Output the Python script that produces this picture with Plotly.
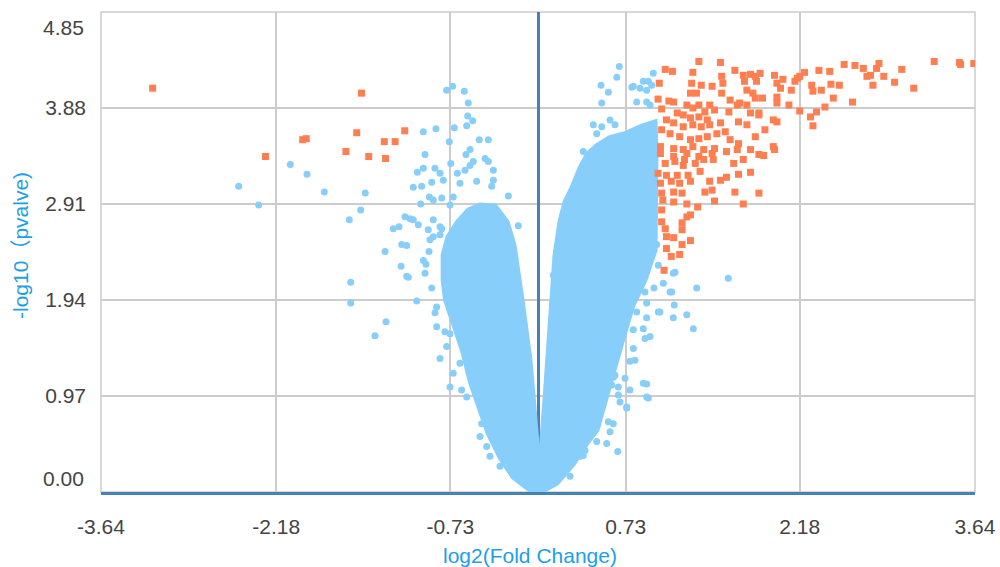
import plotly.graph_objects as go

# ---------------- data ----------------
X_TICKS = [-3.64, -2.18, -0.73, 0.73, 2.18, 3.64]
Y_TICKS = [0.00, 0.97, 1.94, 2.91, 3.88, 4.85]

# significant genes (orange squares)
sig_x = [1.34, 1.52, 1.06, 1.12, 1.29, 1.64, 2.55, 2.64, 2.71, 2.84,
         2.82, 3.03, 3.30, 3.51, 3.52, 3.63, 2.34, 2.43, 2.22, 2.74,
         2.77, 2.88, 2.79, 2.97, 3.13, 2.62, 2.51, 2.44, 2.46, 2.39,
         2.32, 2.27, 2.29, 2.18, 2.16, 2.18, 2.14, 1.97, 2.04, 1.99,
         2.02, 2.11, 2.09, 1.99, 1.99, 2.28, 2.29, 2.36, 1.71, 1.77,
         1.81, 1.85, 1.82, 1.72, 1.74, 1.79, 1.81, 1.87, 1.68, 1.74,
         1.77, 1.84, 1.53, 1.54, 1.53, 1.60, 1.36, 1.28, 1.27, 1.32,
         1.45, 1.01, 1.00, 1.09, 1.13, 1.03, 1.24, 1.29, 1.34, 1.43,
         1.39, 1.47, 1.59, 1.66, 1.16, 1.21, 1.27, 1.34, 1.41, 1.07,
         1.13, 1.21, 1.29, 1.36, 1.43, 1.52, 1.67, 1.74, 1.84, 1.89,
         1.96, 1.99, 1.03, 1.10, 1.18, 1.27, 1.34, 1.41, 1.49, 1.56,
         1.60, 1.67, 1.81, 1.77, 1.02, 1.13, 1.21, 1.29, 1.38, 1.47,
         1.57, 1.66, 1.96, 1.97, 1.84, 1.88, 1.13, 1.22, 1.34, 1.46,
         1.71, 1.63, 1.02, 1.24, 1.45, 1.06, 1.14, 1.21, 1.31, 1.38,
         1.67, 1.77, 1.00, 1.07, 1.16, 1.25, 1.35, 1.02, 1.11, 1.18,
         1.27, 1.43, 1.52, 1.57, 1.03, 1.13, 1.20, 1.39, 1.45, 1.64,
         1.84, 1.04, 1.13, 1.24, 1.33, 1.47, 1.71, 1.03, 1.24, 1.27,
         1.20, 1.03, 1.06, 1.20, 1.13, 1.07, 1.27, 1.20, 1.07, 1.11, 1.18, 1.05,
         -3.21, -1.47, -2.27, -1.96, -1.93, -1.51, -1.60, -1.41, -1.28, -1.19, -1.11, -1.27]
sig_y = [4.35, 4.34, 4.27, 4.25, 4.24, 4.26, 4.32, 4.31, 4.28, 4.33,
         4.28, 4.27, 4.35, 4.34, 4.32, 4.33, 4.26, 4.25, 4.24, 4.20,
         4.21, 4.20, 4.11, 4.14, 4.08, 3.94, 4.11, 4.12, 3.98, 3.89,
         3.84, 3.79, 3.70, 3.85, 4.18, 4.20, 4.15, 4.21, 4.17, 4.13,
         4.08, 4.06, 3.91, 3.93, 3.99, 4.11, 4.05, 4.06, 4.21, 4.22,
         4.20, 4.23, 4.15, 4.15, 4.06, 4.03, 3.98, 3.98, 3.93, 3.91,
         3.83, 3.83, 4.20, 4.13, 4.03, 3.96, 4.11, 4.13, 4.03, 4.03,
         4.10, 4.13, 3.97, 3.95, 3.94, 3.87, 3.91, 3.88, 3.91, 3.91,
         3.84, 3.86, 3.84, 3.91, 3.83, 3.81, 3.78, 3.79, 3.76, 3.76,
         3.73, 3.69, 3.71, 3.69, 3.71, 3.73, 3.74, 3.71, 3.81, 3.66,
         3.76, 3.74, 3.66, 3.62, 3.59, 3.56, 3.57, 3.59, 3.62, 3.64,
         3.56, 3.52, 3.59, 3.46, 3.49, 3.47, 3.46, 3.49, 3.46, 3.47,
         3.44, 3.46, 3.49, 3.46, 3.41, 3.40, 3.39, 3.36, 3.39, 3.36,
         3.36, 3.32, 3.42, 3.42, 3.42, 3.32, 3.34, 3.30, 3.32, 3.36,
         3.21, 3.23, 3.22, 3.20, 3.20, 3.20, 3.24, 3.12, 3.14, 3.12,
         3.14, 3.14, 3.15, 3.18, 3.02, 3.03, 3.02, 3.03, 3.05, 3.03,
         3.02, 2.95, 2.93, 2.91, 2.88, 2.94, 2.91, 2.85, 2.78, 2.80,
         2.72, 2.73, 2.66, 2.65, 2.57, 2.58, 2.54, 2.50, 2.46, 2.38, 2.40, 2.24,
         4.08, 4.03, 3.39, 3.56, 3.57, 3.63, 3.44, 3.39, 3.54, 3.54, 3.65, 3.37]

# non-significant genes lying outside the dense cloud (blue dots)
blue_x = [0.677, 0.656, 0.525, 0.586, 0.531, 0.781, 0.850, 0.877, 0.919, 0.960,
          0.947, 0.905, 0.822, 0.905, 0.933, 0.794, 0.461, 0.531, 0.600, 0.641,
          0.489, 0.377, 0.294, 0.225, 0.211, 0.156, 0.128,
          -0.761, -0.711, -0.614, -0.581, -0.586, -0.544, -0.594, -0.697, -0.850, -0.955,
          -0.739, -0.489, -0.414, -0.566, -0.600, -0.941, -0.727, -0.441, -0.414, -1.005,
          -0.955, -0.858, -0.816, -0.789, -1.039, -0.969, -0.885, -0.672, -0.608, -0.566,
          -0.539, -0.511, -0.650, -0.372, -0.372, -0.386, -0.247, -0.905, -0.872, -0.802,
          -0.706, -0.733, -0.977, -1.108, -1.039, -0.997, -0.872, -0.816, -0.914, -0.164,
          -2.493, -2.327, -2.063, -1.924, -1.780, -1.439, -1.477, -1.572, -1.066, -1.205,
          -1.158, -1.274, -1.135, -1.094, -0.908, -1.141, -1.080, -0.955, -0.933, -1.560,
          -1.560, -1.010, -1.266, -1.358, -0.885, -0.844, -0.844, -0.816, -0.733, -0.761,
          -0.775, -0.858, -0.941, -0.900, -0.872, -0.802, -0.816, -0.483, -0.427, -0.650,
          -0.566, -0.706, -1.094, -0.733, -0.636, -0.594, -0.469, -0.400, -0.317,
          0.989, 1.002, 1.141, 1.044, 1.114, 0.966, 1.322, 1.135, 1.016, 1.239,
          1.127, 1.294, 0.905, 0.877, 0.933, 0.891, 0.794, 0.808, 0.766, 0.877,
          0.905, 0.919, 0.766, 0.739, 0.683, 0.669, 0.725, 0.641, 0.614, 0.586,
          0.600, 0.489, 0.572, 0.664, 0.392, 0.267, 0.350, 0.377, 0.794, 0.850,
          0.905, 0.822, 1.585, 1.100, 0.627, 0.627, 0.739, 0.794, 0.627, 0.669,
          0.905, 0.739, 0.627, 0.392, 0.891, 1.002, 1.127]
blue_y = [4.30, 4.19, 4.11, 4.04, 3.93, 4.09, 4.08, 4.15, 4.15, 4.23,
          4.11, 4.06, 3.94, 3.94, 3.91, 4.10, 3.71, 3.69, 3.76, 3.71,
          3.62, 3.44, 3.03, 2.83, 2.73, 2.43, 2.19,
          4.06, 4.10, 4.05, 3.93, 3.80, 3.75, 3.70, 3.68, 3.67, 3.64,
          3.54, 3.56, 3.56, 3.46, 3.41, 3.41, 3.32, 3.37, 3.34, 3.23,
          3.27, 3.27, 3.22, 3.15, 3.08, 3.09, 3.13, 3.22, 3.25, 3.30,
          3.34, 3.14, 3.12, 3.25, 3.15, 3.09, 2.99, 2.98, 2.95, 2.97,
          2.98, 2.90, 2.91, 2.78, 2.75, 2.70, 2.75, 2.68, 2.65, 2.69,
          3.09, 2.90, 3.31, 3.21, 3.03, 3.02, 2.85, 2.75, 2.76, 2.66,
          2.68, 2.43, 2.50, 2.49, 2.43, 2.28, 2.17, 2.34, 2.30, 2.12,
          1.91, 1.93, 1.72, 1.58, 2.06, 1.87, 1.67, 1.35, 1.06, 1.47,
          1.62, 1.81, 2.21, 2.55, 2.58, 2.66, 2.60, 0.56, 0.46, 1.30,
          1.18, 1.20, 2.18, 1.60, 1.03, 0.96, 0.69, 0.36, 0.26,
          2.50, 2.29, 2.22, 2.11, 2.02, 2.06, 2.06, 1.89, 1.82, 1.79,
          1.76, 1.65, 1.76, 1.65, 1.57, 1.55, 1.45, 1.33, 1.32, 1.10,
          1.09, 0.95, 1.03, 0.85, 0.91, 0.98, 1.15, 1.18, 1.08, 0.71,
          0.61, 0.51, 0.49, 0.41, 0.51, 0.16, 0.36, 0.37, 2.06, 2.09,
          1.91, 1.82, 2.16, 2.02, 2.24, 2.07, 1.82, 1.64, 1.16, 1.06,
          0.96, 0.86, 0.69, 0.42, 2.02, 1.82, 2.21]

# outlines of the two dense (overplotted) lobes of the cloud
core_left_x = [-0.008, -0.067, -0.208, -0.317, -0.416, -0.480, -0.560, -0.630, -0.720,
               -0.770, -0.790, -0.790, -0.750, -0.670, -0.580, -0.483, -0.358, -0.258,
               -0.200, -0.167, -0.133, -0.100, -0.067, -0.042, -0.025, -0.008, 0.0]
core_left_y = [0.0, 0.020, 0.152, 0.354, 0.596, 0.828, 1.101, 1.435, 1.738,
               1.940, 2.142, 2.395, 2.577, 2.728, 2.849, 2.900, 2.890, 2.728,
               2.496, 2.243, 1.940, 1.637, 1.334, 0.980, 0.727, 0.475, 0.0]
core_right_x = [0.0, 0.017, 0.033, 0.058, 0.083, 0.108, 0.125, 0.142, 0.183, 0.225,
                0.283, 0.350, 0.416, 0.491, 0.600, 0.725, 0.850, 0.975, 0.983, 0.983,
                0.975, 0.891, 0.791, 0.716, 0.633, 0.566, 0.491, 0.408, 0.300, 0.158, 0.025]
core_right_y = [0.0, 0.222, 0.525, 0.930, 1.334, 1.738, 2.061, 2.395, 2.728, 2.930,
                3.072, 3.274, 3.420, 3.500, 3.580, 3.620, 3.690, 3.740, 3.456, 3.072,
                2.445, 2.142, 1.889, 1.586, 1.233, 0.930, 0.626, 0.495, 0.293, 0.091, 0.0]

# ---------------- styling ----------------
BLUE = "#87CEFA"
ORANGE = "#FF7F50"
AXIS_BLUE = "#4682B4"
TITLE_BLUE = "#1E9FE6"
GRID = "#cccccc"
TICK_COLOR = "#444444"
FONT = "Liberation Sans, Arial, Noto Sans CJK SC, sans-serif"

fig = go.Figure()
for cx, cy in [(core_left_x, core_left_y), (core_right_x, core_right_y)]:
    fig.add_trace(go.Scatter(x=cx, y=cy, mode="lines", fill="toself",
                             fillcolor=BLUE, line=dict(color=BLUE, width=5),
                             hoverinfo="skip", showlegend=False))
fig.add_trace(go.Scatter(x=blue_x, y=blue_y, mode="markers",
                         marker=dict(color=BLUE, size=7, symbol="circle", line=dict(width=0)),
                         showlegend=False))
fig.add_trace(go.Scatter(x=sig_x, y=sig_y, mode="markers",
                         marker=dict(color=ORANGE, size=7, symbol="square", line=dict(width=0)),
                         showlegend=False))

tick_font = dict(family=FONT, size=21, color=TICK_COLOR)
title_font = dict(family=FONT, size=21, color=TITLE_BLUE)

fig.update_xaxes(range=[X_TICKS[0], X_TICKS[-1]], tickvals=X_TICKS,
                 ticktext=[f"{v:.2f}" for v in X_TICKS],
                 showgrid=True, gridcolor=GRID, gridwidth=1.5,
                 zeroline=True, zerolinecolor=AXIS_BLUE, zerolinewidth=3,
                 showline=True, linecolor=AXIS_BLUE, linewidth=3,
                 ticks="", ticklabelstandoff=14, tickfont=tick_font,
                 automargin=False, fixedrange=True)

mid_y = Y_TICKS[1:-1]
fig.update_yaxes(range=[Y_TICKS[0], Y_TICKS[-1]], tickvals=mid_y,
                 ticktext=[f"{v:.2f}" for v in mid_y],
                 showgrid=True, gridcolor=GRID, gridwidth=1.5,
                 zeroline=False, showline=False,
                 ticks="", ticklabelstandoff=14, tickfont=tick_font,
                 automargin=False, fixedrange=True)

annotations = []
# end labels of the y axis are drawn pulled inside the plot area
for v, shift in [(Y_TICKS[0], 14), (Y_TICKS[-1], -15)]:
    annotations.append(dict(x=0, xref="paper", y=v, yref="y", text=f"{v:.2f}",
                            showarrow=False, xanchor="right", yanchor="middle",
                            xshift=-15, yshift=shift, font=tick_font))
annotations.append(dict(x=0.5, xref="paper", y=0, yref="paper", text="log2(Fold Change)",
                        showarrow=False, xanchor="center", yanchor="middle",
                        xshift=-8, yshift=-63, font=title_font))
annotations.append(dict(x=0, xref="paper", y=0.5, yref="paper", text="-log10（pvalve)",
                        showarrow=False, xanchor="center", yanchor="middle",
                        textangle=-90, xshift=-81, yshift=6, font=title_font))

fig.update_layout(
    width=1000, height=567,
    margin=dict(l=101, r=25, t=12, b=75, autoexpand=False),
    paper_bgcolor="white", plot_bgcolor="white",
    annotations=annotations,
    shapes=[dict(type="rect", xref="paper", yref="paper", x0=0, y0=0, x1=1, y1=1,
                 line=dict(color=GRID, width=1.5), layer="below")],
    showlegend=False,
)

fig.write_html("out.html", config={"displayModeBar": False},
               post_script="document.body.style.margin='0';")
